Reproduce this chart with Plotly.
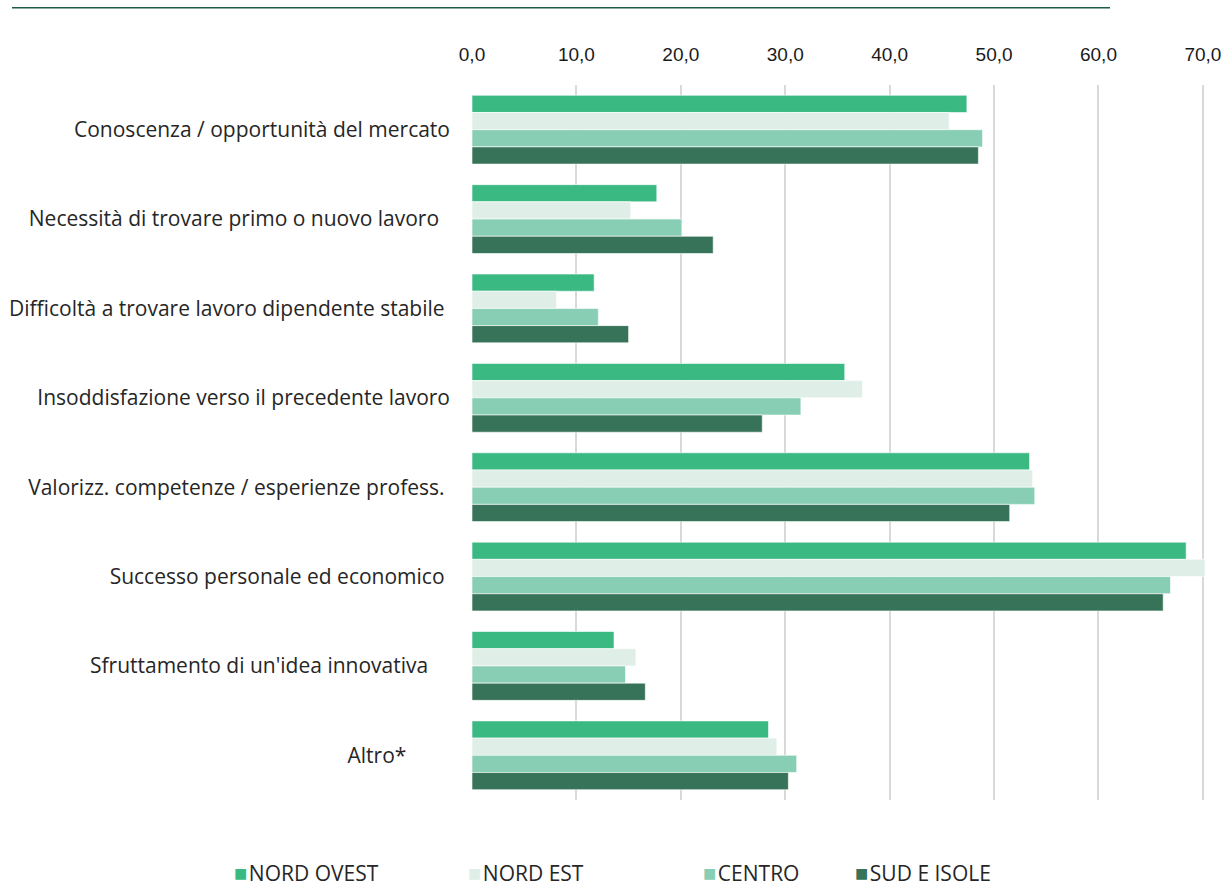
import plotly.graph_objects as go

categories = [
    "Conoscenza / opportunità del mercato",
    "Necessità di trovare primo o nuovo lavoro",
    "Difficoltà a trovare lavoro dipendente stabile",
    "Insoddisfazione verso il precedente lavoro",
    "Valorizz. competenze / esperienze profess.",
    "Successo personale ed economico",
    "Sfruttamento di un'idea innovativa",
    "Altro*",
]
# padding (non-breaking spaces) after each label, as in the original
label_pad = [0, 2, 1, 0, 1, 1, 4, 8]

series_names = ["NORD OVEST", "NORD EST", "CENTRO", "SUD E ISOLE"]
nord_ovest = [47.4, 17.7, 11.7, 35.7, 53.4, 68.4, 13.6, 28.4]
nord_est = [45.7, 15.2, 8.1, 37.4, 53.7, 70.2, 15.7, 29.2]
centro = [48.9, 20.1, 12.1, 31.5, 53.9, 66.9, 14.7, 31.1]
sud_isole = [48.5, 23.1, 15.0, 27.8, 51.5, 66.2, 16.6, 30.3]
colors = ["#3AB982", "#DFEFE7", "#88CEB4", "#377358"]

tick_vals = [0, 10, 20, 30, 40, 50, 60, 70]

# legend entry left edges (pixels) -> paper coords
legend_px = [232, 466, 701, 853]
L, R = 472, 20
W = 1226
plot_w = W - L - R

fig = go.Figure()
for name, vals, col in zip(series_names, [nord_ovest, nord_est, centro, sud_isole], colors):
    fig.add_trace(go.Bar(
        y=categories, x=vals, name=name, orientation="h", showlegend=False,
        marker=dict(color=col, line=dict(color="rgba(255,255,255,0.6)", width=1)),
    ))

ticktext = [c + "\u00a0" * p for c, p in zip(categories, label_pad)]

fig.update_layout(
    width=W, height=887,
    margin=dict(l=L, r=R, t=85, b=87, autoexpand=False),
    paper_bgcolor="white", plot_bgcolor="white",
    barmode="group", bargap=0.23, bargroupgap=0,
    separators=",.",
    font=dict(family="Open Sans, sans-serif", size=21, color="#262626"),
    xaxis=dict(
        side="top", range=[0, 70.3], tickvals=tick_vals, tickformat=".1f",
        showgrid=True, gridcolor="#D9D9D9", gridwidth=2, automargin=False,
        zeroline=False, showline=False, ticks="", ticklabelstandoff=19,
        tickfont=dict(family="Liberation Sans, sans-serif", size=19, color="#1a1a1a"),
    ),
    yaxis=dict(
        autorange="reversed", tickvals=categories, ticktext=ticktext,
        showgrid=False, zeroline=False, showline=False, ticks="", automargin=False,
        ticklabelstandoff=21,
        tickfont=dict(family="Open Sans, sans-serif", size=21, color="#262626"),
    ),
    showlegend=False,
)

for name, col, px in zip(series_names, colors, legend_px):
    fig.add_annotation(
        xref="paper", yref="paper", x=(px - L) / plot_w, y=(800 - 872) / 715,
        xanchor="left", yanchor="middle", showarrow=False,
        text=f"<span style='color:{col};font-size:22px'>■</span><span style='font-size:6px'> </span>{name}",
        font=dict(family="Open Sans, sans-serif", size=21, color="#262626"),
    )

fig.add_shape(type="line", xref="paper", yref="paper",
              x0=(12 - L) / plot_w, x1=(1110 - L) / plot_w, y0=1.108, y1=1.108,
              line=dict(color="#1E5C43", width=1.5))

fig.write_html("out.html", config={"displayModeBar": False},
               post_script="document.body.style.margin='0';document.body.style.overflow='hidden';")
